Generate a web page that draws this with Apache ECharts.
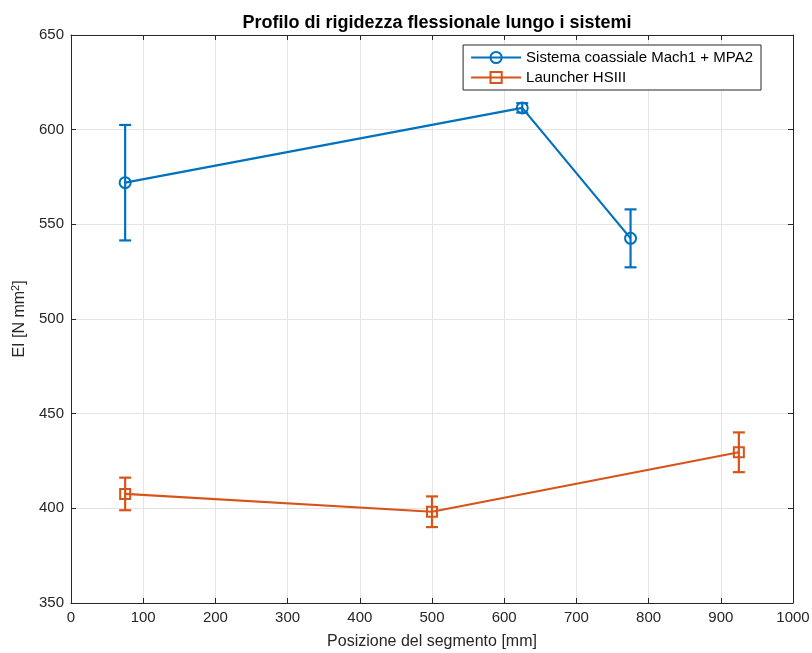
<!DOCTYPE html>
<html><head><meta charset="utf-8">
<script src="https://cdn.jsdelivr.net/npm/echarts@6/dist/echarts.min.js"></script>
<style>html,body{margin:0;padding:0;background:#fff}#c{width:812px;height:653px}</style>
</head><body><div id="c"></div>
<script>
const xTicks = [0,100,200,300,400,500,600,700,800,900,1000];
const seriesNames = ['Sistema coassiale Mach1 + MPA2', 'Launcher HSIII'];
const blueX = [75, 625, 775];
const blueY = [572, 611.5, 542.6];
const blueErr = [30.5, 2.5, 15.3];
const orangeX = [75, 500, 925];
const orangeY = [407.6, 398.2, 429.6];
const orangeErr = [8.6, 8.1, 10.5];

const BLUE = '#0072BD', ORANGE = '#D95319';
const FONT = 'Liberation Sans, Arial, Helvetica, sans-serif';

function pts(xs, ys){ return xs.map((x,i)=>[x, ys[i]]); }
function errData(xs, ys, es){ return xs.map((x,i)=>[x, ys[i]-es[i], ys[i]+es[i]]); }
function errSeries(name, data, color){
  return {
    name: name, type: 'custom', data: data, z: 3,
    encode: {x: 0, y: [1,2]},
    renderItem: function(params, api){
      const x = api.value(0);
      const lo = api.coord([x, api.value(1)]);
      const hi = api.coord([x, api.value(2)]);
      const hw = 6;
      const st = {stroke: color, lineWidth: 2.2, fill: null};
      return {type: 'group', children: [
        {type:'line', shape:{x1:lo[0],y1:lo[1],x2:hi[0],y2:hi[1]}, style:st},
        {type:'line', shape:{x1:lo[0]-hw,y1:lo[1],x2:lo[0]+hw,y2:lo[1]}, style:st},
        {type:'line', shape:{x1:hi[0]-hw,y1:hi[1],x2:hi[0]+hw,y2:hi[1]}, style:st}
      ]};
    }
  };
}
const axisCol = '#262626';
const chart = echarts.init(document.getElementById('c'));
chart.setOption({
  animation: false,
  textStyle: {fontFamily: FONT},
  title: {text: 'Profilo di rigidezza flessionale lungo i sistemi', left: 432, textAlign: 'center', top: 9,
    textStyle: {fontFamily: FONT, fontWeight: 'bold', fontSize: 18, color: '#000'}},
  grid: {left: 71, right: 19, top: 35, bottom: 50, outerBoundsMode: 'none', containLabel: false},
  legend: {
    orient: 'vertical', right: 51, top: 45, data: seriesNames,
    backgroundColor: '#fff', borderColor: '#262626', borderWidth: 1, borderRadius: 0,
    padding: [5, 8, 5, 7], itemGap: 5, itemWidth: 50, itemHeight: 14,
    textStyle: {fontFamily: FONT, fontSize: 15, color: '#000'}
  },
  xAxis: [{
    type: 'value', min: 0, max: 1000, interval: 100, position: 'bottom',
    axisLine: {show: true, onZero: false, lineStyle: {color: axisCol}},
    axisTick: {show: true, inside: true, length: 5, lineStyle: {color: axisCol}},
    axisLabel: {fontSize: 15, color: axisCol, margin: 7, fontFamily: FONT, formatter: v => String(v)},
    splitLine: {show: true, lineStyle: {color: '#e4e4e4'}},
    name: 'Posizione del segmento [mm]', nameLocation: 'middle', nameGap: 31,
    nameTextStyle: {fontSize: 16, color: axisCol, fontFamily: FONT}
  }, {
    type: 'value', min: 0, max: 1000, interval: 100, position: 'top',
    axisLine: {show: true, onZero: false, lineStyle: {color: axisCol}},
    axisTick: {show: true, inside: true, length: 5, lineStyle: {color: axisCol}},
    axisLabel: {show: false}, splitLine: {show: false}
  }],
  yAxis: [{
    type: 'value', min: 350, max: 650, interval: 50, position: 'left',
    axisLine: {show: true, onZero: false, lineStyle: {color: axisCol}},
    axisTick: {show: true, inside: true, length: 5, lineStyle: {color: axisCol}},
    axisLabel: {fontSize: 15, color: axisCol, margin: 7, fontFamily: FONT},
    splitLine: {show: true, lineStyle: {color: '#e4e4e4'}},
    name: 'EI [N mm{sup|2}]', nameLocation: 'middle', nameGap: 33,
    nameTextStyle: {fontSize: 16, color: axisCol, fontFamily: FONT,
      rich: {sup: {fontSize: 11, verticalAlign: 'top', padding: [0,0,8,0], color: axisCol, fontFamily: FONT}}}
  }, {
    type: 'value', min: 350, max: 650, interval: 50, position: 'right',
    axisLine: {show: true, onZero: false, lineStyle: {color: axisCol}},
    axisTick: {show: true, inside: true, length: 5, lineStyle: {color: axisCol}},
    axisLabel: {show: false}, splitLine: {show: false}
  }],
  series: [
    {name: seriesNames[0], type: 'line', data: pts(blueX, blueY), z: 4,
      symbol: 'circle', symbolSize: 11, showAllSymbol: true,
      lineStyle: {color: BLUE, width: 2.2},
      itemStyle: {color: 'rgba(255,255,255,0)', borderColor: BLUE, borderWidth: 2}},
    errSeries(seriesNames[0], errData(blueX, blueY, blueErr), BLUE),
    {name: seriesNames[1], type: 'line', data: pts(orangeX, orangeY), z: 4,
      symbol: 'rect', symbolSize: 10, showAllSymbol: true,
      lineStyle: {color: ORANGE, width: 2.2},
      itemStyle: {color: 'rgba(255,255,255,0)', borderColor: ORANGE, borderWidth: 2}},
    errSeries(seriesNames[1], errData(orangeX, orangeY, orangeErr), ORANGE)
  ]
});
</script></body></html>
